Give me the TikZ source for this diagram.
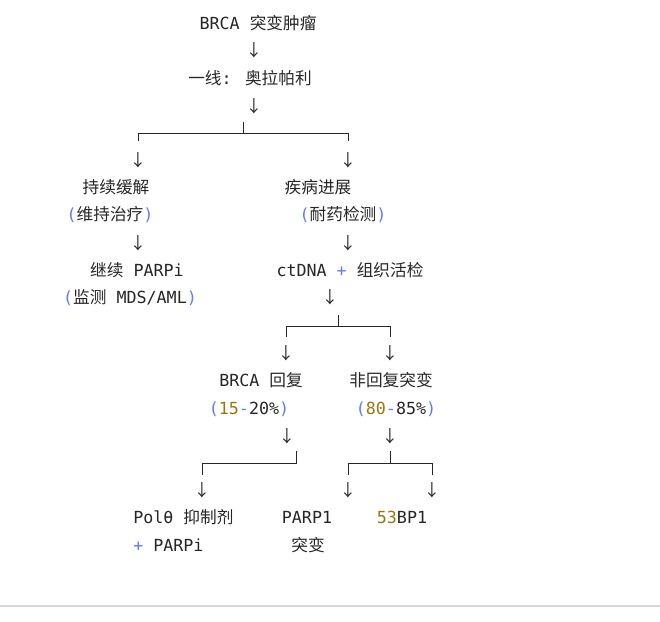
\documentclass[tikz,border=0pt]{standalone}
\usepackage{fontspec}
\setmainfont{DejaVu Sans Mono}
\newfontfamily\cjk{Noto Sans CJK SC}
\usetikzlibrary{positioning}
\definecolor{parblue}{HTML}{5B7CF5}
\definecolor{numgold}{HTML}{9C7410}
\newcommand{\bp}[1]{\textcolor{parblue}{#1}}
\newcommand{\gn}[1]{\textcolor{numgold}{#1}}

\begin{document}
\begin{tikzpicture}[
    x=0.75pt, y=-0.75pt,
    txt/.style={inner sep=0pt, font=\fontsize{12.5}{14}\selectfont, text=black!85},
    down/.style={txt, font=\fontsize{12.5}{14}\selectfont\cjk},
    branch/.style={draw=black!85, line width=0.6pt}
]
    \useasboundingbox (0,0) rectangle (660,621);

    % Top chain
    \node[txt] (tumor) at (258,23) {BRCA {\cjk 突变肿瘤}};
    \node[down] (a1) at (254,50) {↓};
    \node[txt] (first) at (250,78) {{\cjk 一线}: {\cjk 奥拉帕利}};
    \node[down] (a2) at (254,106) {↓};

    % Branch 1
    \coordinate (s1) at (243,122);
    \coordinate (j1) at (243,133);
    \coordinate (l1) at (138,133);
    \coordinate (r1) at (348,133);
    \coordinate (l1e) at (138,141);
    \coordinate (r1e) at (348,141);
    \draw[branch] (s1) -- (j1);
    \draw[branch] (l1e) -- (l1) -- (r1) -- (r1e);
    \node[down] (a3) at (138,160) {↓};
    \node[down] (a4) at (348,160) {↓};

    % Left column
    \node[txt] (resp) at (116,187) {{\cjk 持续缓解}};
    \node[txt] (maint) at (110,215) {\bp{(}{\cjk 维持治疗}\bp{)}};
    \node[down] (a5) at (138,243) {↓};
    \node[txt] (cont) at (137,270) {{\cjk 继续} PARPi};
    \node[txt] (mon) at (130,298) {\bp{(}{\cjk 监测} MDS/AML\bp{)}};

    % Right column
    \node[txt] (prog) at (318,187) {{\cjk 疾病进展}};
    \node[txt] (test) at (343,215) {\bp{(}{\cjk 耐药检测}\bp{)}};
    \node[down] (a6) at (348,243) {↓};
    \node[txt] (ct) at (350,270) {ctDNA \bp{+} {\cjk 组织活检}};
    \node[down] (a7) at (330,297) {↓};

    % Branch 2
    \coordinate (s2) at (338,315);
    \coordinate (j2) at (338,326);
    \coordinate (l2) at (286,326);
    \coordinate (r2) at (390,326);
    \coordinate (l2e) at (286,337);
    \coordinate (r2e) at (390,337);
    \draw[branch] (s2) -- (j2);
    \draw[branch] (l2e) -- (l2) -- (r2) -- (r2e);
    \node[down] (a8) at (286,353) {↓};
    \node[down] (a9) at (390,353) {↓};

    \node[txt] (rev) at (261,380) {BRCA {\cjk 回复}};
    \node[txt] (revp) at (249,409) {\bp{(}\gn{15}\bp{-}20\%\bp{)}};
    \node[txt] (nrev) at (391,380) {{\cjk 非回复突变}};
    \node[txt] (nrevp) at (396,409) {\bp{(}\gn{80}\bp{-}85\%\bp{)}};
    \node[down] (a10) at (287,436) {↓};
    \node[down] (a11) at (390,436) {↓};

    % Branch 3
    \coordinate (s3) at (296,451);
    \coordinate (j3) at (296,463);
    \coordinate (l3) at (202,463);
    \coordinate (l3e) at (202,475);
    \draw[branch] (s3) -- (j3) -- (l3) -- (l3e);
    \node[down] (a12) at (202,490) {↓};

    % Branch 4
    \coordinate (s4) at (390,451);
    \coordinate (j4) at (390,463);
    \coordinate (l4) at (348,463);
    \coordinate (r4) at (432,463);
    \coordinate (l4e) at (348,475);
    \coordinate (r4e) at (432,475);
    \draw[branch] (s4) -- (j4);
    \draw[branch] (l4e) -- (l4) -- (r4) -- (r4e);
    \node[down] (a13) at (348,490) {↓};
    \node[down] (a14) at (432,490) {↓};

    % Leaves
    \node[txt, anchor=west] (pol) at (133,517) {Polθ {\cjk 抑制剂}};
    \node[txt, anchor=west] (polp) at (133,545) {\bp{+} PARPi};
    \node[txt] (parp) at (307,517) {PARP1};
    \node[txt] (parpm) at (308,545) {{\cjk 突变}};
    \node[txt] (bp53) at (402,517) {\gn{53}BP1};

    % Bottom rule
    \coordinate (b1) at (0,606);
    \coordinate (b2) at (660,606);
    \draw[black!15, line width=0.8pt] (b1) -- (b2);
\end{tikzpicture}
\end{document}
